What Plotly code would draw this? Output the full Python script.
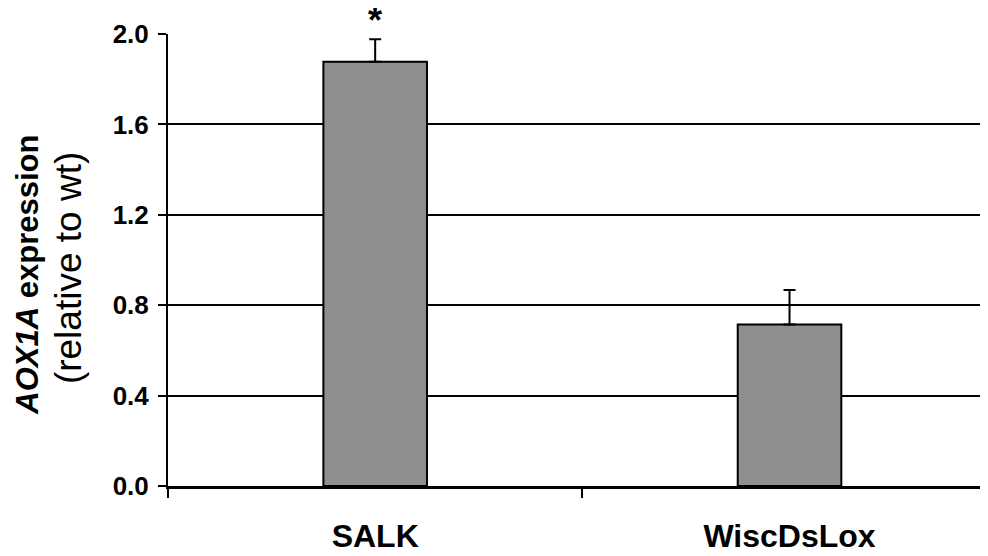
import plotly.graph_objects as go

categories = ["SALK", "WiscDsLox"]
values = [1.877, 0.715]
errors = [0.10, 0.152]
annotations_text = ["*", ""]
y_ticks = [0.0, 0.4, 0.8, 1.2, 1.6, 2.0]
y_tick_labels = ["0.0", "0.4", "0.8", "1.2", "1.6", "2.0"]

FONT = "Liberation Sans, Arial, Helvetica, sans-serif"

fig = go.Figure()
fig.add_trace(go.Bar(
    x=categories, y=values,
    marker=dict(color="#8f8f8f", line=dict(color="black", width=2)),
    error_y=dict(type="data", array=errors, arrayminus=[0] * len(errors),
                 symmetric=False, color="black", thickness=2, width=6),
    showlegend=False,
))

for c, v, e, t in zip(categories, values, errors, annotations_text):
    if t:
        fig.add_annotation(x=c, y=v + e, text=f"<b>{t}</b>", showarrow=False,
                           yanchor="bottom", yshift=-3, borderpad=0,
                           font=dict(family=FONT, size=36, color="black"))

fig.add_annotation(xref="paper", yref="paper", x=-0.171, y=0.467,
                   text="<b><i>AOX1A</i> expression</b>", textangle=-90,
                   showarrow=False, xanchor="center", yanchor="middle",
                   font=dict(family=FONT, size=31, color="black"))
fig.add_annotation(xref="paper", yref="paper", x=-0.122, y=0.482,
                   text="(relative to wt)", textangle=-90,
                   showarrow=False, xanchor="center", yanchor="middle",
                   font=dict(family=FONT, size=37, color="black"))

# the page body adds an 8px offset, so margins compensate for it
fig.update_layout(
    width=988, height=556,
    margin=dict(l=160, r=8, t=26, b=78),
    paper_bgcolor="white", plot_bgcolor="white",
    bargap=0.75,
    font=dict(family=FONT, color="black"),
)
fig.update_xaxes(
    range=[-0.5, 1.479],
    showline=True, linecolor="black", linewidth=3,
    ticks="outside", tickson="boundaries", ticklen=9, tickwidth=2, tickcolor="black",
    showgrid=False,
    tickfont=dict(family=FONT, size=32, color="black", weight="bold"),
    ticklabelstandoff=20,
)
fig.update_yaxes(
    range=[0, 2.0],
    tickvals=y_ticks, ticktext=y_tick_labels,
    showline=True, linecolor="black", linewidth=2,
    ticks="outside", ticklen=8, tickwidth=2, tickcolor="black",
    showgrid=True, gridcolor="black", gridwidth=2,
    zeroline=False,
    tickfont=dict(family=FONT, size=26, color="black", weight="bold"),
    ticklabelstandoff=4,
)

fig.write_html("out.html")
